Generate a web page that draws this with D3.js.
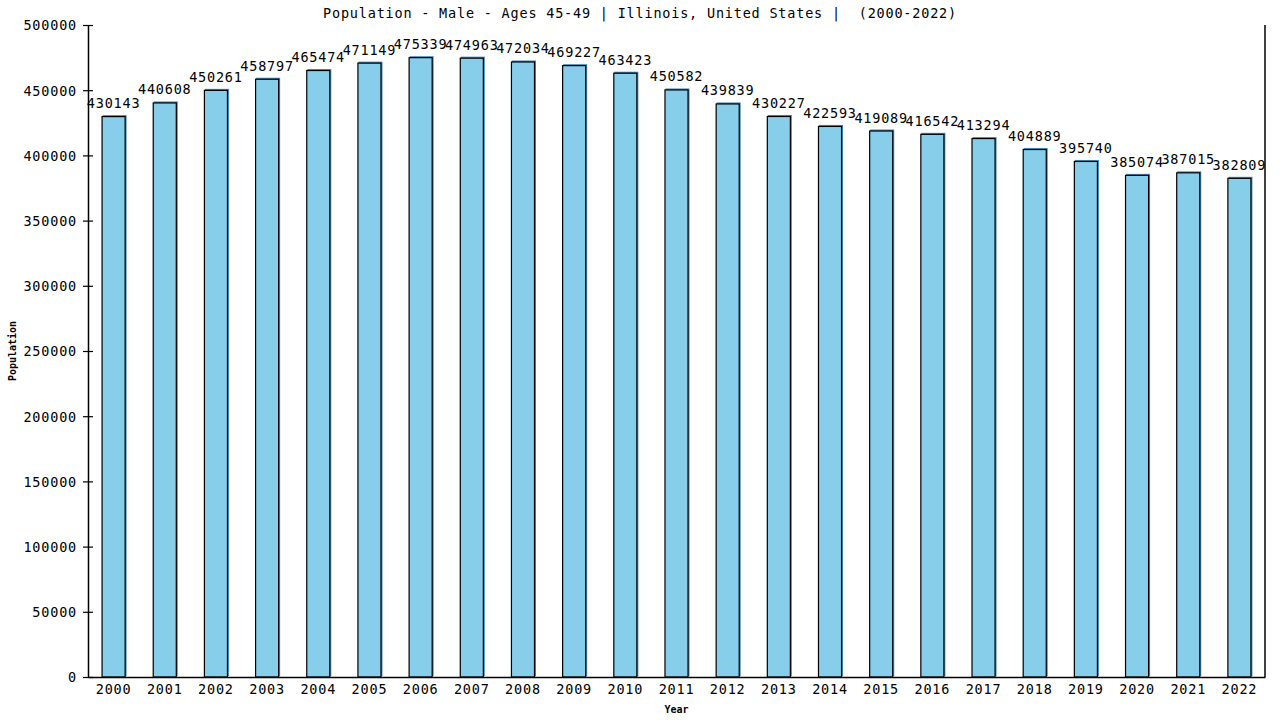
<!DOCTYPE html>
<html>
<head>
<meta charset="utf-8">
<script src="https://cdn.jsdelivr.net/npm/d3@7"></script>
<style>
  body { margin: 0; background: #fff; }
  text { font-family: "DejaVu Sans Mono", monospace; fill: #000; white-space: pre; }
</style>
</head>
<body>
<svg id="chart" width="1280" height="720"></svg>
<script>
// chart data
var years = ["2000","2001","2002","2003","2004","2005","2006","2007","2008","2009","2010","2011",
  "2012","2013","2014","2015","2016","2017","2018","2019","2020","2021","2022"];
var population = [430143,440608,450261,458797,465474,471149,475339,474963,472034,469227,463423,450582,
  439839,430227,422593,419089,416542,413294,404889,395740,385074,387015,382809];
var yTicks = [0,50000,100000,150000,200000,250000,300000,350000,400000,450000,500000];
var title = "Population - Male - Ages 45-49 | Illinois, United States |  (2000-2022)";

// plot area (note: "top" is a window property, so use other names)
var plotLeft = 88, plotRight = 1265, plotTop = 25, plotBottom = 677;
var svg = d3.select('#chart');

var x = d3.scaleBand().domain(years).range([plotLeft, plotRight]).paddingInner(0.53).paddingOuter(0.265);
var y = d3.scaleLinear().domain([0, 500000]).range([plotBottom, plotTop]);

/** text style shared by all labels */
function mono(sel, size){
	return sel.attr('font-size', size).attr('letter-spacing', 0.8);
}

// bars: a steelblue shadow offset up-right, then the sky blue bar with black edge
var bars = svg.append('g');
bars.selectAll('rect.shadow')
	.data(population)
	.enter().append('rect')
	.attr('class','shadow')
	.attr('x', function(d,i){return x(years[i]) + 1;})
	.attr('y', function(d){return y(d) - 1;})
	.attr('width', x.bandwidth())
	.attr('height', function(d){return plotBottom - y(d);})
	.attr('fill', '#4a8ab8');
bars.selectAll('rect.bar')
	.data(population)
	.enter().append('rect')
	.attr('class','bar')
	.attr('x', function(d,i){return x(years[i]) + 0.5;})
	.attr('y', function(d){return y(d) + 0.5;})
	.attr('width', x.bandwidth() - 1)
	.attr('height', function(d){return plotBottom - y(d) - 0.5;})
	.attr('fill', '#87ceeb')
	.attr('stroke', '#000')
	.attr('stroke-width', 1.2);

// value labels
mono(svg.append('g').selectAll('text')
	.data(population)
	.enter().append('text')
	.attr('x', function(d,i){return x(years[i]) + x.bandwidth()/2;})
	.attr('y', function(d){return y(d) - 8;})
	.attr('text-anchor','middle')
	.text(function(d){return d;}), '13.5px');

// y axis with ticks crossing the line
var yAxis = svg.append('g').attr('transform','translate(' + plotLeft + ',0)')
	.call(d3.axisLeft(y).tickValues(yTicks).tickFormat(d3.format('d')).tickSizeInner(5).tickSizeOuter(0));
yAxis.select('.domain').attr('stroke','#000').attr('stroke-width',1.5);
yAxis.selectAll('.tick line').attr('x2', 5).attr('x1', -5).attr('stroke','#000').attr('stroke-width',1.2);
mono(yAxis.selectAll('.tick text').attr('x', -11).attr('dy','0.36em').attr('font-family', null), '13.5px');

// x axis without ticks
var xAxis = svg.append('g').attr('transform','translate(0,' + plotBottom + ')')
	.call(d3.axisBottom(x).tickSize(0).tickSizeOuter(0));
xAxis.select('.domain').attr('stroke','#000').attr('stroke-width',1.5);
mono(xAxis.selectAll('.tick text').attr('y', 17).attr('dy', 0).attr('font-family', null), '13.5px');

// right border
svg.append('line').attr('x1', plotRight).attr('x2', plotRight).attr('y1', plotTop).attr('y2', plotBottom)
	.attr('stroke','#000').attr('stroke-width',1.5);

// titles
mono(svg.append('text').attr('x', 640).attr('y', 18).attr('text-anchor','middle').text(title), '13.5px');
svg.append('text').attr('transform','translate(16,' + ((plotTop+plotBottom)/2) + ') rotate(-90)')
	.attr('text-anchor','middle').attr('font-size','10px').attr('font-weight','bold').text('Population');
svg.append('text').attr('x', (plotLeft+plotRight)/2).attr('y', 713)
	.attr('text-anchor','middle').attr('font-size','10px').attr('font-weight','bold').text('Year');
</script>
</body>
</html>
